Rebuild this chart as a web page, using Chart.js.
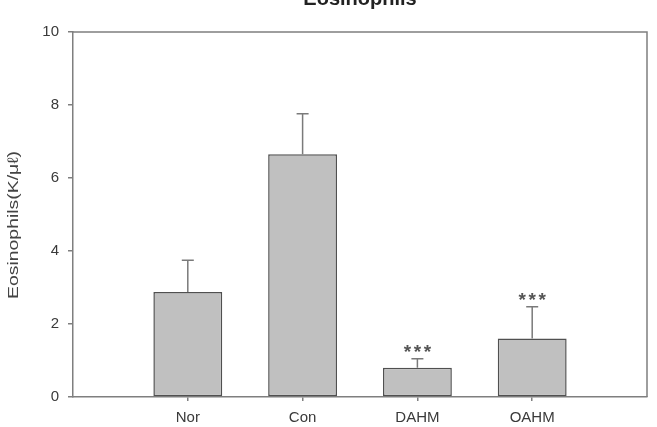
<!DOCTYPE html>
<html><head><meta charset="utf-8">
<script src="https://cdn.jsdelivr.net/npm/chart.js@4.4.0/dist/chart.umd.min.js"></script>
<style>html,body{margin:0;padding:0;background:#fff;overflow:hidden}#wrap{width:657px;height:427px;position:relative}</style>
</head><body><div id="wrap"><canvas id="c" width="657" height="427"></canvas></div>
<script>
const categories = ['Nor', 'Con', 'DAHM', 'OAHM'];
const means = [2.88, 6.65, 0.80, 1.60];
const upperErrors = [0.87, 1.11, 0.25, 0.87];
const significance = ['', '', '***', '***'];
const yTickStep = 2;
const yMin = 0, yMax = 10;
const chartTitle = 'Eosinophils';
const yTitle = 'Eosinophils(K/\u03bc\u2113)';

const axisLabels = [''].concat(categories, ['']);
const barData = [null].concat(means, [null]);
const errData = [null].concat(upperErrors, [null]);
const sigData = [''].concat(significance, ['']);

const deco = {
  id: 'deco',
  afterDatasetsDraw(chart) {
    const { ctx, chartArea: a, scales: { y } } = chart;
    ctx.save();
    ctx.strokeStyle = '#7f7f7f'; ctx.lineWidth = 1.5;
    ctx.beginPath(); ctx.moveTo(a.left, a.top); ctx.lineTo(a.right, a.top); ctx.lineTo(a.right, a.bottom); ctx.stroke();
    const meta = chart.getDatasetMeta(0);
    meta.data.forEach((bar, i) => {
      if (barData[i] == null) return;
      const xc = bar.x;
      const y0 = y.getPixelForValue(barData[i]);
      const y1 = y.getPixelForValue(barData[i] + errData[i]);
      ctx.strokeStyle = '#7a7a7a'; ctx.lineWidth = 1.5;
      ctx.beginPath();
      ctx.moveTo(xc, y0); ctx.lineTo(xc, y1);
      ctx.moveTo(xc - 6, y1); ctx.lineTo(xc + 6, y1);
      ctx.stroke();
      if (sigData[i]) {
        ctx.fillStyle = '#555';
        ctx.font = 'bold 19px "Liberation Sans", Arial, sans-serif';
        ctx.textAlign = 'center'; ctx.textBaseline = 'alphabetic';
        const n = sigData[i].length;
        for (let k = 0; k < n; k++) {
          ctx.fillText(sigData[i][k], xc + (k - (n - 1) / 2) * 10, y1 - 1);
        }
      }
    });
    ctx.restore();
  },
  afterDraw(chart) {
    const { ctx, chartArea: a } = chart;
    ctx.save();
    ctx.fillStyle = '#222';
    ctx.font = 'bold 20px "Liberation Sans", Arial, sans-serif';
    ctx.textAlign = 'center'; ctx.textBaseline = 'alphabetic';
    ctx.fillText(chartTitle, (a.left + a.right) / 2, 5);
    ctx.fillStyle = '#444';
    ctx.font = '15px "Liberation Sans", Arial, sans-serif';
    ctx.translate(14, 225);
    ctx.rotate(-Math.PI / 2);
    const w = ctx.measureText(yTitle).width;
    ctx.scale(148 / w, 1);
    ctx.textAlign = 'center'; ctx.textBaseline = 'middle';
    ctx.fillText(yTitle, 0, 0);
    ctx.restore();
  }
};

new Chart(document.getElementById('c'), {
  type: 'bar',
  data: {
    labels: axisLabels,
    datasets: [{
      data: barData,
      backgroundColor: '#c0c0c0',
      borderColor: '#505050',
      borderWidth: 1.5,
      borderSkipped: false,
      categoryPercentage: 1,
      barPercentage: 0.6
    }]
  },
  options: {
    responsive: false,
    devicePixelRatio: 1,
    animation: false,
    layout: { padding: { top: 32, right: 10, left: 0, bottom: 0 } },
    plugins: { legend: { display: false }, tooltip: { enabled: false }, title: { display: false } },
    scales: {
      x: {
        type: 'category',
        offset: false,
        grid: {
          offset: false,
          drawOnChartArea: false, tickLength: 4, lineWidth: 1.5,
          color: (c) => (c.tick && c.tick.label) ? '#7f7f7f' : 'rgba(0,0,0,0)'
        },
        border: { display: true, color: '#7f7f7f', width: 1.5 },
        ticks: { font: { family: 'Liberation Sans', size: 15 }, color: '#3a3a3a', padding: 8, maxRotation: 0, autoSkip: false },
        afterFit(s) { s.height = 30; }
      },
      y: {
        min: yMin, max: yMax,
        grid: { drawOnChartArea: false, tickLength: 5, color: '#7f7f7f', lineWidth: 1.5 },
        border: { display: true, color: '#7f7f7f', width: 1.5 },
        ticks: { stepSize: yTickStep, font: { family: 'Liberation Sans', size: 15 }, color: '#3a3a3a', padding: 9 },
        afterFit(s) { s.width = 73; }
      }
    }
  },
  plugins: [deco]
});
</script>
</body></html>
